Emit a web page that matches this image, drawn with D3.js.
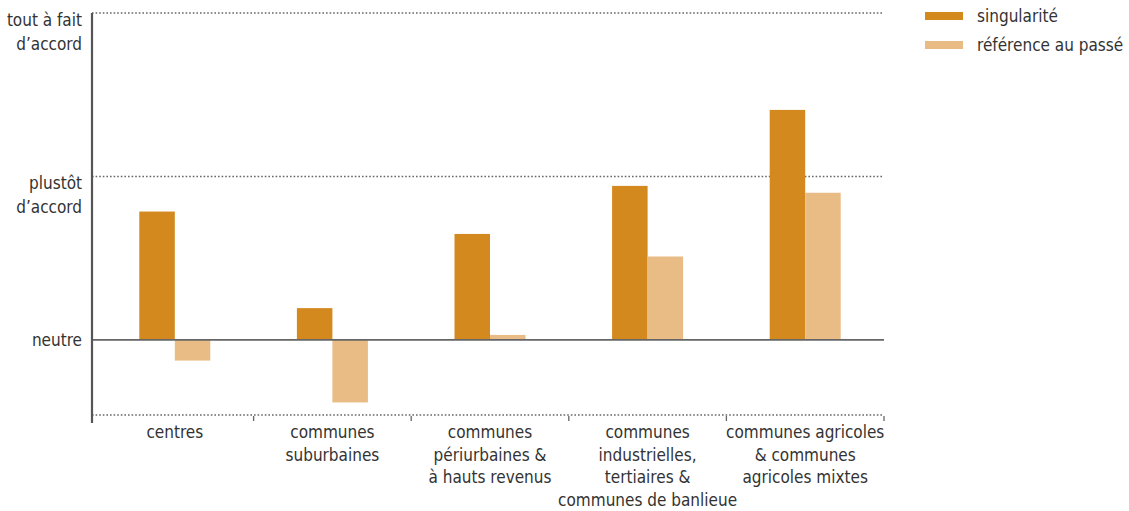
<!DOCTYPE html>
<html>
<head>
<meta charset="utf-8">
<script src="https://cdn.jsdelivr.net/npm/d3@7"></script>
<style>
  html, body { margin: 0; padding: 0; background: #fff; }
  svg text { font-family: "Liberation Sans Narrow", "Arial Narrow", "DejaVu Sans Condensed", sans-serif; fill: #333; }
</style>
</head>
<body>
<svg id="chart" width="1129" height="511"></svg>
<script>
// Catégories de communes (libellés sur plusieurs lignes)
const categories = [
  ["centres"],
  ["communes", "suburbaines"],
  ["communes", "périurbaines &", "à hauts revenus"],
  ["communes", "industrielles,", "tertiaires &", "communes de banlieue"],
  ["communes agricoles", "& communes", "agricoles mixtes"]
];
const seriesNames = ["singularité", "référence au passé"];
const singularite = [0.785, 0.194, 0.648, 0.942, 1.407];
const referencePasse = [-0.127, -0.383, 0.03, 0.51, 0.90];
const yTicks = [2, 1, 0];
const yTickLabels = [["tout à fait", "d\u2019accord"], ["plustôt", "d\u2019accord"], ["neutre"]];
const yMin = -0.46;
const colors = ["#d4891e", "#e8bc84"];

const svg = d3.select("#chart");
const left = 92, right = 884;

const y = d3.scaleLinear().domain([yMin, 2]).range([415, 13]);
const x = d3.scaleBand().domain(d3.range(categories.length)).range([96, right]).padding(0);
const x1 = d3.scaleBand().domain([0, 1]).range([0, 71]);
const barOffset = (x.bandwidth() - 71) / 2;

// Lignes de référence pointillées (haut, milieu, bas)
[2, 1, yMin].forEach(v => {
  svg.append("line")
    .attr("x1", left).attr("x2", right)
    .attr("y1", y(v)).attr("y2", y(v))
    .attr("stroke", "#666").attr("stroke-width", 1.5)
    .attr("stroke-dasharray", "1.6,2");
});

// Barres
const data = categories.map((c, i) => ({ i, vals: [singularite[i], referencePasse[i]] }));
const groups = svg.selectAll("g.cat").data(data).join("g")
  .attr("class", "cat")
  .attr("transform", d => `translate(${x(d.i) + barOffset},0)`);
groups.selectAll("rect").data(d => d.vals.map((v, k) => ({ v, k }))).join("rect")
  .attr("x", d => x1(d.k))
  .attr("width", x1.bandwidth())
  .attr("y", d => Math.min(y(d.v), y(0)))
  .attr("height", d => Math.abs(y(d.v) - y(0)))
  .attr("fill", d => colors[d.k]);

// Ligne « neutre »
svg.append("line")
  .attr("x1", left).attr("x2", right)
  .attr("y1", y(0)).attr("y2", y(0))
  .attr("stroke", "#666").attr("stroke-width", 1.8);

// Axe vertical
svg.append("line")
  .attr("x1", left).attr("x2", left)
  .attr("y1", y(2)).attr("y2", 423)
  .attr("stroke", "#555").attr("stroke-width", 2.2);

// Séparateurs de catégories
d3.range(1, categories.length + 1).forEach(i => {
  const xs = i < categories.length ? x(i) : right;
  svg.append("line")
    .attr("x1", xs).attr("x2", xs)
    .attr("y1", y(yMin) + 1).attr("y2", y(yMin) + 6)
    .attr("stroke", "#666").attr("stroke-width", 1.3);
});

// Libellés de l'axe vertical
yTicks.forEach((v, i) => {
  const lines = yTickLabels[i];
  const t = svg.append("text")
    .attr("text-anchor", "end")
    .attr("font-size", 17);
  const start = lines.length > 1 ? y(v) + 13 : y(v) + 6;
  lines.forEach((ln, j) => {
    t.append("tspan").attr("x", 82).attr("y", start + j * 23.5).text(ln);
  });
});

// Libellés des catégories
categories.forEach((lines, i) => {
  const t = svg.append("text")
    .attr("text-anchor", "middle")
    .attr("font-size", 17);
  lines.forEach((ln, j) => {
    t.append("tspan")
      .attr("x", x(i) + x.bandwidth() / 2)
      .attr("y", 438 + j * 22.7)
      .text(ln);
  });
});

// Légende
seriesNames.forEach((name, k) => {
  const ly = 16 + k * 29;
  svg.append("rect")
    .attr("x", 925).attr("y", ly - 4)
    .attr("width", 38).attr("height", 8)
    .attr("fill", colors[k]);
  svg.append("text")
    .attr("x", 977).attr("y", ly + 6)
    .attr("font-size", 17)
    .text(name);
});
</script>
</body>
</html>
